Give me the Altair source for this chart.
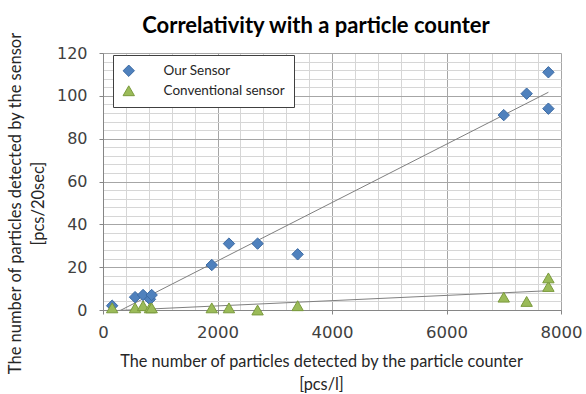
import altair as alt
import pandas as pd

# ---- data ----
counter_x = [160, 560, 700, 820, 850, 1900, 2200, 2700, 3400, 7000, 7400, 7780, 7780]
our_sensor = [2, 6, 7, 5, 7, 21, 31, 31, 26, 91, 101, 111, 94]
conv_sensor = [1, 1, 2, 1, 1, 1, 1, 0, 2, 6, 4, 11, 15]
series_names = ["Our Sensor", "Conventional sensor"]
x_ticks = [0, 2000, 4000, 6000, 8000]
y_ticks = [0, 20, 40, 60, 80, 100, 120]
x_minor = list(range(0, 8001, 400))
y_minor = list(range(0, 121, 4))

rows = []
for xv, yv in zip(counter_x, our_sensor):
    rows.append({"x": xv, "y": yv, "series": series_names[0]})
for xv, yv in zip(counter_x, conv_sensor):
    rows.append({"x": xv, "y": yv, "series": series_names[1]})
df = pd.DataFrame(rows)

FONT = "Lato"
TICKFONT = "DejaVu Sans"

xscale = alt.Scale(domain=[0, 8000], nice=False, zero=False)
yscale = alt.Scale(domain=[0, 120], nice=False, zero=False)

minor = alt.Chart(df).mark_point(opacity=0).encode(
    x=alt.X("x:Q", scale=xscale, axis=alt.Axis(
        orient="top", values=x_minor, grid=True, gridColor="#d6d6d6", gridWidth=1,
        labels=False, ticks=False, domain=False, title=None)),
    y=alt.Y("y:Q", scale=yscale, axis=alt.Axis(
        orient="right", values=y_minor, grid=True, gridColor="#d6d6d6", gridWidth=1,
        labels=False, ticks=False, domain=False, title=None)),
)

trend = alt.Chart(df).transform_regression(
    "x", "y", groupby=["series"]
).mark_line(color="#7f7f7f", strokeWidth=1, clip=True).encode(
    x=alt.X("x:Q", scale=xscale, axis=None),
    y=alt.Y("y:Q", scale=yscale, axis=None),
    detail="series:N",
)

legend_kw = dict(title=None, orient="none", legendX=10, legendY=2,
                 fillColor="white", strokeColor="#404040",
                 padding=9, labelFont=FONT, labelFontSize=13.5, labelColor="#262626",
                 labelOffset=28, symbolSize=130, rowPadding=4, symbolStrokeWidth=1,
                 labelExpr="datum.label + '\u00a0\u00a0\u00a0\u00a0\u00a0\u00a0\u00a0\u00a0\u00a0\u00a0'")

points = alt.Chart(df).mark_point(filled=True, size=130, strokeWidth=1, opacity=1).encode(
    x=alt.X("x:Q", scale=xscale, axis=alt.Axis(
        orient="bottom", values=x_ticks, format="d", grid=True, gridColor="#a6a6a6", gridWidth=1,
        domainColor="#868686", tickColor="#868686", tickSize=4, labelFlush=False,
        labelFont=TICKFONT, labelFontSize=16.5, labelColor="#404040", labelPadding=10,
        title=["The number of particles detected by the particle counter", "[pcs/l]"],
        titleFont=FONT, titleFontSize=16.3, titleFontWeight="normal", titleColor="#262626",
        titleLineHeight=23, titleX=218, titleY=43, titleBaseline="top", titleAlign="center")),
    y=alt.Y("y:Q", scale=yscale, axis=alt.Axis(
        orient="left", values=y_ticks, format="d", grid=True, gridColor="#a6a6a6", gridWidth=1,
        domainColor="#868686", tickColor="#868686", tickSize=4, labelFlush=False,
        labelFont=TICKFONT, labelFontSize=16, labelColor="#404040", labelPadding=12,
        title=["The number of particles detected by the sensor", "[pcs/20sec]"],
        titleFont=FONT, titleFontSize=16.5, titleFontWeight="normal", titleColor="#262626",
        titleLineHeight=23, titleAngle=270, titleX=-96, titleY=150,
        titleBaseline="top", titleAlign="center")),
    shape=alt.Shape("series:N", scale=alt.Scale(domain=series_names, range=["diamond", "triangle-up"]),
                    legend=alt.Legend(**legend_kw)),
    color=alt.Color("series:N", scale=alt.Scale(domain=series_names, range=["#4f81bd", "#9bbb59"]),
                    legend=alt.Legend(**legend_kw)),
    stroke=alt.Stroke("series:N", scale=alt.Scale(domain=series_names, range=["#3b6aa3", "#7a9a3c"]),
                      legend=alt.Legend(**legend_kw)),
    order=alt.Order("series_order:Q"),
).transform_calculate(series_order="datum.series == 'Our Sensor' ? 0 : 1")

chart = alt.layer(minor, trend, points).resolve_axis(
    x="independent", y="independent"
).properties(
    width=458, height=257,
    padding={"left": 103, "top": 53, "right": 25, "bottom": 84},
    autosize=alt.AutoSizeParams(type="none"),
    title=alt.TitleParams("Correlativity with a particle counter", font=FONT, fontSize=22,
                          fontWeight="bold", color="#000000", anchor="middle", dx=-16, dy=6, offset=0),
).configure_view(strokeWidth=0).configure_legend(strokeWidth=2.5).configure(background="white")

chart.save("out.html", embed_options={"renderer": "svg", "actions": False})
